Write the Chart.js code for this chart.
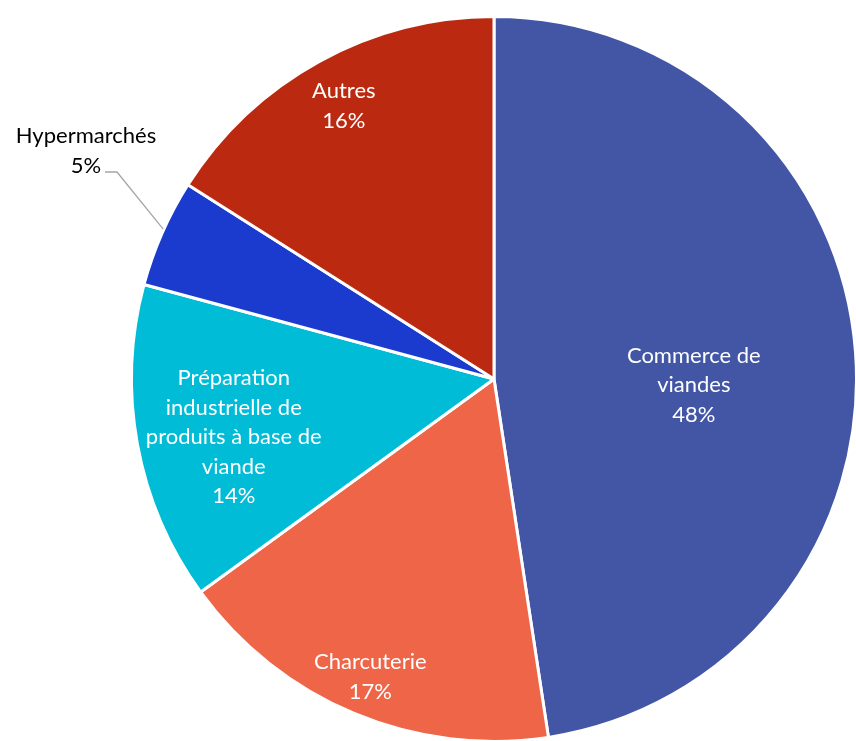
<!DOCTYPE html>
<html>
<head>
<meta charset="utf-8">
<script src="https://cdn.jsdelivr.net/npm/chart.js@4"></script>
<style>
  html,body{margin:0;padding:0;background:#fff;overflow:hidden;}
  #wrap{position:relative;width:858px;height:743px;}
</style>
</head>
<body>
<div id="wrap"><canvas id="pie"></canvas></div>
<script>
// --- data ---
const categories = ['Commerce de viandes','Charcuterie','Préparation industrielle de produits à base de viande','Hypermarchés','Autres'];
const values = [47.6, 17.4, 14.2, 4.8, 16.0];
const labelLines = [
  ['Commerce de','viandes'],
  ['Charcuterie'],
  ['Préparation','industrielle de','produits à base de','viande'],
  ['Hypermarchés'],
  ['Autres']
];

// --- styles ---
const colors = ['#4356A5','#EE6548','#00BCD7','#1A3BCE','#BB2A10'];
const labelRadius = [0.55, 0.885, 0.73, null, 0.86];
const labelShift = [[1,21],[0,2],[0,10],[0,0],[0,0]];
const FONT = '22px Lato, "Open Sans", sans-serif';
const LINE_H = 29.5;

const total = values.reduce((a,b)=>a+b,0);
const pctText = v => Math.round(v/total*100)+'%';

const labelPlugin = {
  id:'sliceLabels',
  afterDatasetsDraw(chart){
    const ctx = chart.ctx;
    const meta = chart.getDatasetMeta(0);
    ctx.save();
    ctx.font = FONT;
    ctx.textAlign = 'center';
    ctx.textBaseline = 'middle';
    meta.data.forEach((arc,i)=>{
      const lines = [...labelLines[i], pctText(values[i])];
      const mid = (arc.startAngle+arc.endAngle)/2;
      if (labelRadius[i] === null) {
        // outside label with leader line
        const r = arc.outerRadius;
        const ex = arc.x + Math.cos(mid)*r*0.985, ey = arc.y + Math.sin(mid)*r*0.985;
        const tx = 86, ty = 151;
        ctx.strokeStyle = '#A6A6A6';
        ctx.lineWidth = 1.3;
        ctx.beginPath();
        ctx.moveTo(ex - 4, ey - 6);
        ctx.lineTo(117, 172);
        ctx.lineTo(105, 172);
        ctx.stroke();
        ctx.fillStyle = '#000';
        lines.forEach((t,k)=>ctx.fillText(t, tx, ty - LINE_H/2 + k*LINE_H));
        return;
      }
      const rr = arc.outerRadius*labelRadius[i];
      const cx = arc.x + Math.cos(mid)*rr + labelShift[i][0];
      const cy = arc.y + Math.sin(mid)*rr + labelShift[i][1];
      ctx.fillStyle = '#fff';
      const y0 = cy - (lines.length-1)*LINE_H/2;
      lines.forEach((t,k)=>ctx.fillText(t, cx, y0 + k*LINE_H));
    });
    ctx.restore();
  }
};

new Chart(document.getElementById('pie'), {
  type:'pie',
  data:{ labels:categories, datasets:[{ data:values, backgroundColor:colors, borderColor:'#fff', borderWidth:3 }]},
  options:{
    responsive:true, maintainAspectRatio:false, animation:false,
    layout:{padding:{left:130,top:15,right:0,bottom:0}},
    plugins:{legend:{display:false},tooltip:{enabled:false}}
  },
  plugins:[labelPlugin]
});
</script>
</body>
</html>
